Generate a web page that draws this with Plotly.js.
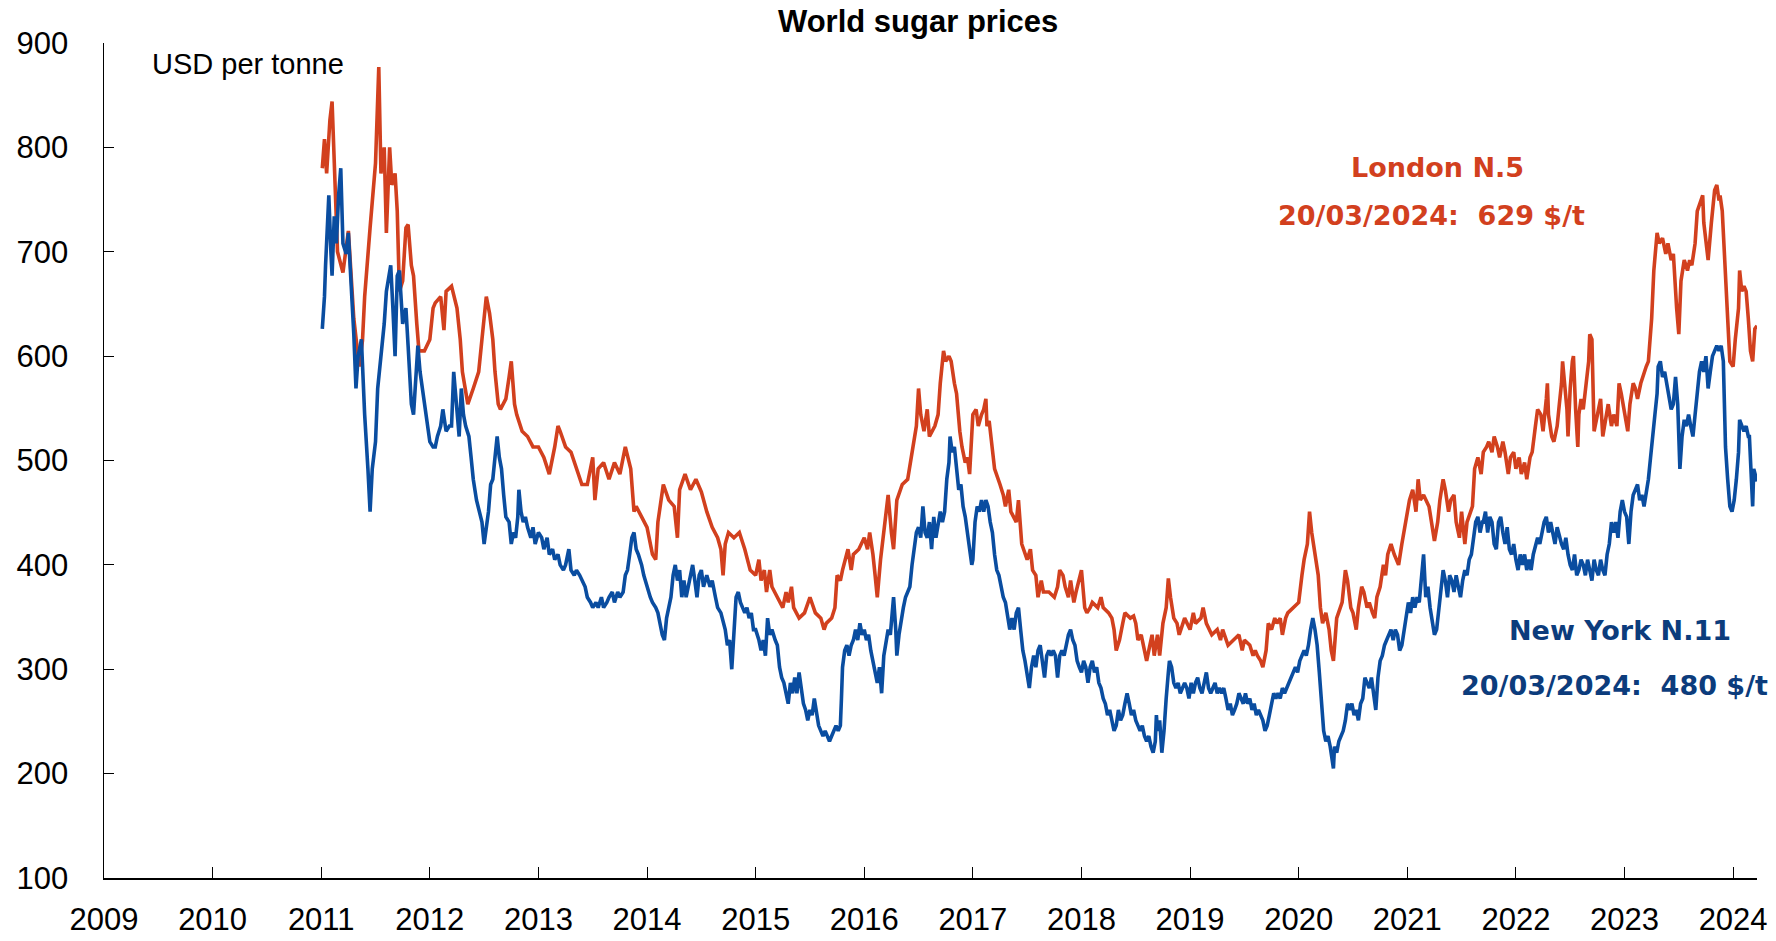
<!DOCTYPE html>
<html>
<head>
<meta charset="utf-8">
<script src="https://cdn.plot.ly/plotly-3.0.1.min.js"></script>
<style>html,body{margin:0;padding:0;background:#fff;}#chart{width:1776px;height:941px;}</style>
</head>
<body>
<div id="chart"></div>
<script>
// Decimal-year / USD per tonne readings (daily series)
const yearTicks = [2009,2010,2011,2012,2013,2014,2015,2016,2017,2018,2019,2020,2021,2022,2023,2024];
const priceTicks = [100,200,300,400,500,600,700,800,900];

const londonN5 = [
[2011.01,780],[2011.03,808],[2011.05,775],[2011.08,826],[2011.10,844],[2011.12,775],[2011.15,700],[2011.20,680],[2011.25,720],[2011.30,636],[2011.35,590],[2011.38,615],[2011.40,657],[2011.45,723],[2011.50,785],[2011.53,877],[2011.55,775],[2011.58,800],[2011.60,718],[2011.63,800],[2011.65,764],[2011.68,775],[2011.70,739],[2011.72,662],[2011.75,672],[2011.78,723],[2011.80,726],[2011.83,687],[2011.85,677],[2011.88,631],[2011.90,605],[2011.95,605],
[2012.00,616],[2012.03,646],[2012.05,651],[2012.10,657],[2012.13,625],[2012.15,662],[2012.20,667],[2012.25,646],[2012.28,616],[2012.30,585],[2012.33,569],[2012.35,554],[2012.40,569],[2012.45,585],[2012.48,616],[2012.52,657],[2012.55,641],[2012.58,616],[2012.60,585],[2012.63,554],[2012.65,549],[2012.70,559],[2012.73,580],[2012.75,595],[2012.78,554],[2012.80,544],[2012.85,528],[2012.90,523],[2012.95,513],
[2013.00,513],[2013.05,503],[2013.10,487],[2013.15,513],[2013.18,533],[2013.20,528],[2013.25,513],[2013.30,508],[2013.35,492],[2013.40,477],[2013.45,477],[2013.50,503],[2013.52,462],[2013.55,492],[2013.60,498],[2013.65,482],[2013.70,498],[2013.75,487],[2013.80,513],[2013.85,492],[2013.88,451],[2013.90,456],[2013.95,446],
[2014.00,436],[2014.05,410],[2014.08,405],[2014.10,441],[2014.15,477],[2014.20,462],[2014.25,456],[2014.28,426],[2014.30,472],[2014.35,487],[2014.40,472],[2014.45,482],[2014.50,470],[2014.55,451],[2014.60,436],[2014.65,426],[2014.68,415],[2014.70,390],[2014.72,420],[2014.75,431],[2014.80,426],[2014.85,431],[2014.90,415],[2014.95,395],
[2015.00,390],[2015.03,405],[2015.05,385],[2015.08,395],[2015.10,374],[2015.13,395],[2015.15,379],[2015.20,369],[2015.25,359],[2015.28,374],[2015.30,364],[2015.33,379],[2015.35,359],[2015.40,349],[2015.45,354],[2015.50,369],[2015.55,354],[2015.60,349],[2015.63,338],[2015.65,344],[2015.70,349],[2015.73,359],[2015.75,390],[2015.78,385],[2015.80,395],[2015.85,415],[2015.88,395],[2015.90,410],[2015.95,415],
[2016.00,426],[2016.03,415],[2016.05,431],[2016.08,410],[2016.10,390],[2016.12,369],[2016.15,405],[2016.20,451],[2016.22,467],[2016.25,431],[2016.27,415],[2016.30,462],[2016.35,477],[2016.40,482],[2016.45,513],[2016.48,533],[2016.50,569],[2016.52,544],[2016.55,528],[2016.58,549],[2016.60,523],[2016.65,533],[2016.68,544],[2016.70,574],[2016.73,605],[2016.75,595],[2016.78,600],[2016.80,595],[2016.83,574],[2016.85,564],[2016.88,528],[2016.90,513],[2016.93,498],[2016.95,503],[2016.97,487],
[2017.00,544],[2017.03,549],[2017.05,533],[2017.08,544],[2017.10,549],[2017.12,559],[2017.13,533],[2017.15,538],[2017.18,508],[2017.20,492],[2017.25,477],[2017.28,467],[2017.30,456],[2017.33,472],[2017.35,451],[2017.40,441],[2017.42,462],[2017.45,420],[2017.50,405],[2017.53,415],[2017.55,395],[2017.58,390],[2017.60,369],[2017.63,385],[2017.65,374],[2017.70,374],[2017.75,369],[2017.78,379],[2017.80,395],[2017.83,390],[2017.85,379],[2017.88,369],[2017.90,385],[2017.93,364],[2017.95,374],
[2018.00,395],[2018.03,359],[2018.05,354],[2018.08,359],[2018.10,364],[2018.15,359],[2018.18,369],[2018.20,359],[2018.25,354],[2018.28,349],[2018.30,338],[2018.32,318],[2018.35,328],[2018.38,344],[2018.40,354],[2018.45,349],[2018.48,351],[2018.50,344],[2018.52,328],[2018.55,333],[2018.58,318],[2018.60,308],[2018.62,318],[2018.65,333],[2018.67,313],[2018.70,333],[2018.72,313],[2018.75,344],[2018.78,359],[2018.80,387],[2018.82,369],[2018.85,349],[2018.88,344],[2018.90,333],[2018.95,349],
[2019.00,338],[2019.03,354],[2019.05,344],[2019.10,349],[2019.12,359],[2019.15,344],[2019.20,333],[2019.25,338],[2019.28,328],[2019.30,338],[2019.35,323],[2019.40,328],[2019.45,333],[2019.48,318],[2019.50,328],[2019.55,323],[2019.58,313],[2019.60,318],[2019.62,313],[2019.65,308],[2019.67,302],[2019.70,318],[2019.72,344],[2019.75,338],[2019.78,349],[2019.80,344],[2019.83,349],[2019.85,333],[2019.88,349],[2019.90,354],[2019.95,359],
[2020.00,364],[2020.03,390],[2020.05,405],[2020.08,420],[2020.10,451],[2020.12,431],[2020.15,410],[2020.18,390],[2020.20,359],[2020.22,344],[2020.25,354],[2020.28,338],[2020.30,318],[2020.32,308],[2020.35,349],[2020.38,359],[2020.40,364],[2020.43,395],[2020.45,385],[2020.48,359],[2020.50,354],[2020.53,338],[2020.55,359],[2020.58,379],[2020.60,374],[2020.63,359],[2020.65,364],[2020.68,354],[2020.70,349],[2020.72,369],[2020.75,379],[2020.78,400],[2020.80,390],[2020.82,410],[2020.85,420],[2020.88,410],[2020.90,405],[2020.92,400],[2020.95,420],[2020.97,431],
[2021.00,451],[2021.02,462],[2021.05,472],[2021.08,451],[2021.10,482],[2021.12,462],[2021.15,467],[2021.20,456],[2021.25,423],[2021.28,441],[2021.30,462],[2021.33,482],[2021.35,472],[2021.38,451],[2021.40,462],[2021.43,467],[2021.45,441],[2021.48,426],[2021.50,451],[2021.53,420],[2021.55,441],[2021.58,451],[2021.60,456],[2021.62,492],[2021.65,503],[2021.68,487],[2021.70,508],[2021.73,513],[2021.75,518],[2021.78,508],[2021.80,523],[2021.83,513],[2021.85,503],[2021.88,518],[2021.90,508],[2021.93,487],[2021.95,503],[2021.98,508],
[2022.00,492],[2022.03,503],[2022.05,487],[2022.08,498],[2022.10,482],[2022.13,503],[2022.15,508],[2022.18,533],[2022.20,549],[2022.23,544],[2022.25,528],[2022.28,559],[2022.29,574],[2022.30,544],[2022.33,523],[2022.35,518],[2022.38,533],[2022.40,554],[2022.42,574],[2022.43,595],[2022.45,569],[2022.47,549],[2022.48,523],[2022.50,569],[2022.52,595],[2022.53,600],[2022.55,549],[2022.57,513],[2022.58,544],[2022.60,559],[2022.62,549],[2022.65,574],[2022.67,595],[2022.68,621],[2022.70,616],[2022.72,528],[2022.75,544],[2022.78,559],[2022.80,523],[2022.83,544],[2022.85,554],[2022.88,533],[2022.90,544],[2022.93,533],[2022.95,574],[2022.97,564],
[2023.00,544],[2023.03,528],[2023.05,554],[2023.08,574],[2023.10,569],[2023.12,559],[2023.15,574],[2023.18,585],[2023.20,590],[2023.22,595],[2023.25,636],[2023.27,682],[2023.28,698],[2023.30,718],[2023.32,708],[2023.35,713],[2023.38,698],[2023.40,708],[2023.43,692],[2023.45,698],[2023.48,646],[2023.50,621],[2023.52,672],[2023.55,692],[2023.58,682],[2023.60,692],[2023.62,687],[2023.65,708],[2023.67,739],[2023.70,749],[2023.72,754],[2023.73,728],[2023.75,708],[2023.77,692],[2023.80,728],[2023.82,749],[2023.83,759],[2023.85,764],[2023.87,749],[2023.88,754],[2023.90,739],[2023.92,698],[2023.93,672],[2023.95,636],[2023.97,595],
[2024.00,590],[2024.02,616],[2024.05,646],[2024.06,682],[2024.08,662],[2024.10,667],[2024.12,662],[2024.14,636],[2024.16,605],[2024.18,595],[2024.20,626],[2024.22,629]
];

const newYorkN11 = [
[2011.01,626],[2011.03,657],[2011.04,687],[2011.06,728],[2011.07,754],[2011.09,698],[2011.10,677],[2011.12,734],[2011.14,708],[2011.16,754],[2011.18,780],[2011.20,708],[2011.23,698],[2011.25,718],[2011.28,662],[2011.30,621],[2011.32,569],[2011.34,600],[2011.37,616],[2011.40,544],[2011.43,492],[2011.45,451],[2011.47,492],[2011.50,518],[2011.52,569],[2011.55,600],[2011.58,631],[2011.60,662],[2011.62,677],[2011.64,687],[2011.66,646],[2011.68,600],[2011.70,677],[2011.72,682],[2011.75,631],[2011.78,646],[2011.80,610],[2011.83,554],[2011.85,544],[2011.87,585],[2011.89,610],[2011.91,585],[2011.94,564],[2011.97,544],
[2012.00,518],[2012.03,513],[2012.05,513],[2012.07,523],[2012.10,533],[2012.12,549],[2012.15,528],[2012.18,533],[2012.20,533],[2012.22,585],[2012.25,544],[2012.27,523],[2012.29,569],[2012.31,544],[2012.33,533],[2012.36,523],[2012.38,503],[2012.40,482],[2012.43,462],[2012.46,451],[2012.48,441],[2012.50,420],[2012.52,436],[2012.54,451],[2012.56,477],[2012.58,482],[2012.60,503],[2012.62,523],[2012.64,503],[2012.66,492],[2012.68,467],[2012.70,446],[2012.73,441],[2012.75,420],[2012.77,431],[2012.79,426],[2012.81,446],[2012.82,472],[2012.84,451],[2012.86,441],[2012.88,446],[2012.90,436],[2012.93,426],[2012.95,436],[2012.97,420],
[2013.00,431],[2013.03,426],[2013.05,415],[2013.08,426],[2013.10,410],[2013.13,415],[2013.15,405],[2013.18,410],[2013.20,400],[2013.23,395],[2013.25,400],[2013.28,415],[2013.30,395],[2013.33,390],[2013.35,395],[2013.38,390],[2013.40,385],[2013.43,379],[2013.45,369],[2013.48,364],[2013.50,359],[2013.53,364],[2013.55,359],[2013.58,369],[2013.60,359],[2013.63,364],[2013.65,369],[2013.68,374],[2013.70,364],[2013.73,374],[2013.75,369],[2013.78,374],[2013.80,390],[2013.82,395],[2013.84,410],[2013.86,426],[2013.88,431],[2013.90,415],[2013.92,410],[2013.95,400],[2013.97,390],
[2014.00,379],[2014.03,369],[2014.05,364],[2014.08,359],[2014.10,354],[2014.12,344],[2014.14,333],[2014.16,328],[2014.18,349],[2014.20,359],[2014.22,369],[2014.24,390],[2014.26,400],[2014.28,385],[2014.30,395],[2014.32,369],[2014.34,385],[2014.36,369],[2014.38,379],[2014.40,390],[2014.42,400],[2014.44,385],[2014.46,369],[2014.48,390],[2014.50,395],[2014.52,379],[2014.55,390],[2014.58,379],[2014.60,385],[2014.63,369],[2014.65,359],[2014.68,354],[2014.70,344],[2014.72,338],[2014.74,323],[2014.76,328],[2014.78,300],[2014.80,333],[2014.82,369],[2014.84,374],[2014.86,364],[2014.88,359],[2014.90,354],[2014.92,359],[2014.94,349],[2014.96,354],[2014.98,338],
[2015.00,338],[2015.03,328],[2015.05,318],[2015.07,328],[2015.09,313],[2015.11,349],[2015.13,333],[2015.15,338],[2015.18,328],[2015.20,323],[2015.22,302],[2015.24,292],[2015.26,287],[2015.28,277],[2015.30,267],[2015.32,287],[2015.34,277],[2015.36,292],[2015.38,277],[2015.40,297],[2015.42,282],[2015.44,267],[2015.46,261],[2015.48,251],[2015.50,261],[2015.52,256],[2015.54,272],[2015.56,256],[2015.58,246],[2015.60,241],[2015.62,236],[2015.64,241],[2015.66,236],[2015.68,231],[2015.70,236],[2015.72,241],[2015.74,246],[2015.76,241],[2015.78,246],[2015.79,272],[2015.80,302],[2015.82,318],[2015.84,323],[2015.86,313],[2015.88,323],[2015.90,328],[2015.92,338],[2015.94,328],[2015.96,344],[2015.98,333],
[2016.00,338],[2016.02,328],[2016.04,333],[2016.06,318],[2016.08,308],[2016.10,297],[2016.12,287],[2016.14,302],[2016.16,277],[2016.18,313],[2016.20,328],[2016.22,338],[2016.24,333],[2016.26,359],[2016.27,369],[2016.29,338],[2016.30,313],[2016.32,333],[2016.34,349],[2016.36,359],[2016.38,369],[2016.40,374],[2016.42,379],[2016.44,400],[2016.46,415],[2016.48,431],[2016.50,436],[2016.52,426],[2016.54,456],[2016.56,431],[2016.58,426],[2016.60,441],[2016.62,415],[2016.64,446],[2016.66,426],[2016.68,441],[2016.70,451],[2016.72,441],[2016.74,451],[2016.76,482],[2016.78,498],[2016.79,523],[2016.81,508],[2016.83,513],[2016.85,492],[2016.87,472],[2016.89,477],[2016.91,456],[2016.93,446],[2016.95,431],[2016.97,410],[2016.99,400],
[2017.00,405],[2017.02,441],[2017.04,456],[2017.06,451],[2017.08,462],[2017.10,451],[2017.12,462],[2017.14,456],[2017.16,441],[2017.18,431],[2017.20,410],[2017.22,395],[2017.24,390],[2017.26,379],[2017.28,369],[2017.30,364],[2017.32,349],[2017.34,338],[2017.36,349],[2017.38,338],[2017.40,354],[2017.42,359],[2017.44,338],[2017.46,318],[2017.48,308],[2017.50,297],[2017.52,282],[2017.54,302],[2017.56,313],[2017.58,302],[2017.60,318],[2017.62,323],[2017.64,308],[2017.66,292],[2017.68,313],[2017.70,318],[2017.72,313],[2017.74,318],[2017.76,313],[2017.78,292],[2017.80,313],[2017.82,318],[2017.84,313],[2017.86,323],[2017.88,333],[2017.90,338],[2017.92,328],[2017.94,323],[2017.96,308],[2017.98,302],
[2018.00,297],[2018.02,308],[2018.04,302],[2018.06,287],[2018.08,302],[2018.10,308],[2018.12,297],[2018.14,302],[2018.16,287],[2018.18,282],[2018.20,272],[2018.22,267],[2018.24,256],[2018.26,261],[2018.28,251],[2018.30,241],[2018.32,246],[2018.34,261],[2018.36,251],[2018.38,256],[2018.40,267],[2018.42,277],[2018.44,267],[2018.46,256],[2018.48,261],[2018.50,251],[2018.52,246],[2018.54,241],[2018.56,246],[2018.58,236],[2018.60,231],[2018.62,236],[2018.64,226],[2018.66,220],[2018.68,231],[2018.69,256],[2018.70,241],[2018.72,251],[2018.73,236],[2018.74,220],[2018.76,241],[2018.77,261],[2018.78,272],[2018.80,297],[2018.81,308],[2018.83,302],[2018.85,287],[2018.87,282],[2018.89,287],[2018.91,277],[2018.93,282],[2018.95,287],[2018.97,282],[2018.99,272],
[2019.01,287],[2019.03,277],[2019.05,287],[2019.07,292],[2019.09,282],[2019.11,277],[2019.13,287],[2019.15,297],[2019.17,282],[2019.19,277],[2019.21,282],[2019.23,287],[2019.25,277],[2019.27,282],[2019.29,277],[2019.31,282],[2019.33,272],[2019.35,261],[2019.37,267],[2019.39,256],[2019.41,261],[2019.43,267],[2019.45,277],[2019.47,272],[2019.49,267],[2019.51,277],[2019.53,267],[2019.55,272],[2019.57,261],[2019.59,267],[2019.61,256],[2019.63,261],[2019.65,256],[2019.67,251],[2019.69,241],[2019.71,246],[2019.73,256],[2019.75,267],[2019.77,277],[2019.79,272],[2019.81,277],[2019.83,272],[2019.85,282],[2019.87,277],[2019.89,282],[2019.91,287],[2019.93,292],[2019.95,297],[2019.97,302],[2019.99,297],
[2020.01,308],[2020.03,313],[2020.05,318],[2020.07,313],[2020.09,323],[2020.11,338],[2020.13,349],[2020.15,338],[2020.17,323],[2020.19,297],[2020.21,267],[2020.23,241],[2020.25,231],[2020.27,236],[2020.29,226],[2020.31,215],[2020.32,205],[2020.33,226],[2020.35,220],[2020.37,231],[2020.39,236],[2020.41,241],[2020.43,251],[2020.45,267],[2020.47,261],[2020.49,267],[2020.51,256],[2020.53,261],[2020.55,251],[2020.57,267],[2020.59,272],[2020.61,292],[2020.63,287],[2020.65,282],[2020.67,292],[2020.69,277],[2020.71,261],[2020.73,292],[2020.75,308],[2020.77,313],[2020.79,323],[2020.81,328],[2020.83,333],[2020.85,338],[2020.87,328],[2020.89,338],[2020.91,333],[2020.93,318],[2020.95,323],[2020.97,338],[2020.99,349],
[2021.01,364],[2021.03,354],[2021.05,369],[2021.07,359],[2021.09,369],[2021.11,364],[2021.13,385],[2021.15,410],[2021.17,369],[2021.19,379],[2021.21,359],[2021.23,344],[2021.25,333],[2021.27,338],[2021.29,359],[2021.31,379],[2021.33,395],[2021.35,385],[2021.37,369],[2021.39,390],[2021.41,385],[2021.43,374],[2021.45,390],[2021.47,379],[2021.49,369],[2021.51,385],[2021.53,395],[2021.55,390],[2021.57,405],[2021.59,410],[2021.61,426],[2021.63,441],[2021.65,446],[2021.67,431],[2021.69,441],[2021.70,441],[2021.72,451],[2021.74,431],[2021.76,446],[2021.78,441],[2021.80,420],[2021.82,415],[2021.84,441],[2021.86,446],[2021.88,431],[2021.90,420],[2021.92,436],[2021.94,415],[2021.96,410],[2021.98,420],
[2022.00,405],[2022.02,395],[2022.04,410],[2022.06,400],[2022.08,410],[2022.10,395],[2022.12,405],[2022.14,395],[2022.16,410],[2022.18,420],[2022.20,426],[2022.22,420],[2022.24,431],[2022.26,441],[2022.28,446],[2022.30,431],[2022.32,441],[2022.34,431],[2022.36,420],[2022.38,436],[2022.40,426],[2022.42,420],[2022.44,415],[2022.46,426],[2022.48,410],[2022.50,400],[2022.52,395],[2022.54,410],[2022.56,390],[2022.58,395],[2022.60,405],[2022.62,400],[2022.64,390],[2022.66,405],[2022.68,395],[2022.70,385],[2022.72,405],[2022.74,395],[2022.76,390],[2022.78,405],[2022.80,395],[2022.82,390],[2022.84,410],[2022.86,420],[2022.88,441],[2022.90,431],[2022.92,441],[2022.94,426],[2022.96,451],[2022.98,462],
[2023.00,451],[2023.02,446],[2023.04,420],[2023.06,451],[2023.08,467],[2023.10,472],[2023.12,477],[2023.14,462],[2023.16,467],[2023.18,456],[2023.20,467],[2023.22,482],[2023.24,503],[2023.26,528],[2023.28,544],[2023.30,564],[2023.31,590],[2023.33,595],[2023.35,580],[2023.37,585],[2023.39,574],[2023.41,559],[2023.43,549],[2023.45,554],[2023.47,580],[2023.49,554],[2023.51,492],[2023.53,523],[2023.55,539],[2023.57,533],[2023.59,544],[2023.61,533],[2023.63,523],[2023.65,544],[2023.67,569],[2023.69,585],[2023.71,595],[2023.73,585],[2023.75,600],[2023.77,569],[2023.79,585],[2023.81,600],[2023.83,605],[2023.85,610],[2023.87,605],[2023.89,610],[2023.91,595],[2023.92,544],[2023.93,513],[2023.95,482],[2023.97,456],[2023.99,451],
[2024.01,462],[2024.03,482],[2024.05,508],[2024.06,539],[2024.08,533],[2024.10,528],[2024.12,533],[2024.14,523],[2024.15,523],[2024.16,503],[2024.18,456],[2024.19,492],[2024.21,482],[2024.22,480]
];

const seriesNames = ['London N.5', 'New York N.11'];
const seriesColors = ['#D2401E', '#0A4DA0'];
const labelColors = ['#D2401E', '#0C3C7C'];

const traces = [londonN5, newYorkN11].map((s, i) => ({
  type: 'scatter', mode: 'lines', name: seriesNames[i],
  x: s.map(p => p[0]), y: s.map(p => p[1]),
  line: {color: seriesColors[i], width: 3.6},
  hoverinfo: 'x+y'
}));

const tickFont = {family: 'Liberation Sans, Arial, sans-serif', size: 31, color: '#000'};
const annFont = (c) => ({family: 'DejaVu Sans, sans-serif', size: 27, color: c, weight: 'bold'});

const layout = {
  width: 1776, height: 941,
  margin: {l: 104, r: 19, t: 43, b: 63, pad: 0},
  paper_bgcolor: '#fff', plot_bgcolor: '#fff',
  showlegend: false,
  title: {text: '<b>World sugar prices</b>', font: {family: 'Liberation Sans, Arial, sans-serif', size: 31, color: '#000'},
          xref: 'paper', x: 0.4925, xanchor: 'center', yref: 'container', y: 0.977, yanchor: 'middle'},
  xaxis: {range: [2009, 2024.22], tickmode: 'array', tickvals: yearTicks, ticktext: yearTicks.map(String),
          showgrid: false, zeroline: false, showline: true, linecolor: '#000', linewidth: 1.5,
          ticks: 'inside', ticklen: 11, tickcolor: '#000', tickwidth: 1,
          tickfont: tickFont, ticklabelstandoff: 13, fixedrange: true},
  yaxis: {range: [100, 900], tickmode: 'array', tickvals: priceTicks, ticktext: priceTicks.map(String),
          showgrid: false, zeroline: false, showline: true, linecolor: '#000', linewidth: 1.5,
          ticks: 'inside', ticklen: 10, tickcolor: '#000', tickwidth: 1,
          tickfont: tickFont, ticklabelstandoff: 28, fixedrange: true},
  annotations: [
    {text: 'USD per tonne', x: 2009.42, y: 880, xref: 'x', yref: 'y', xanchor: 'left', yanchor: 'middle', showarrow: false,
     font: {family: 'Liberation Sans, Arial, sans-serif', size: 29, color: '#000'}},
    {text: 'London N.5', x: 2021.28, y: 781, xref: 'x', yref: 'y', xanchor: 'center', yanchor: 'middle', showarrow: false, font: annFont(labelColors[0])},
    {text: '20/03/2024:  629 $/t', x: 2021.22, y: 735, xref: 'x', yref: 'y', xanchor: 'center', yanchor: 'middle', showarrow: false, font: annFont(labelColors[0])},
    {text: 'New York N.11', x: 2022.96, y: 337, xref: 'x', yref: 'y', xanchor: 'center', yanchor: 'middle', showarrow: false, font: annFont(labelColors[1])},
    {text: '20/03/2024:  480 $/t', x: 2022.91, y: 284, xref: 'x', yref: 'y', xanchor: 'center', yanchor: 'middle', showarrow: false, font: annFont(labelColors[1])}
  ]
};

Plotly.newPlot('chart', traces, layout, {staticPlot: true, displayModeBar: false});
</script>
</body>
</html>
